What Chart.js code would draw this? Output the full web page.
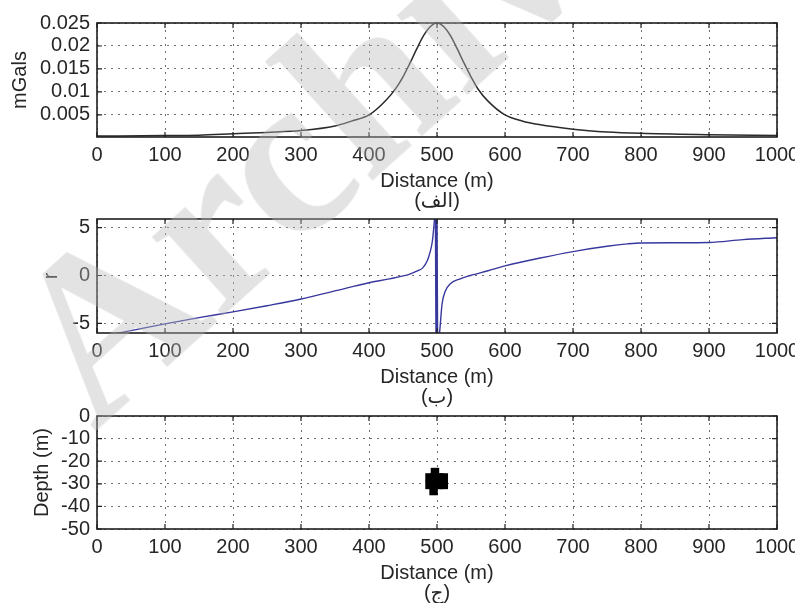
<!DOCTYPE html>
<html>
<head>
<meta charset="utf-8">
<script src="https://cdn.jsdelivr.net/npm/chart.js@4.4.0/dist/chart.umd.min.js"></script>
<style>
  html, body { margin: 0; padding: 0; background: #fff; }
  body { width: 795px; height: 607px; overflow: hidden; position: relative; }
  canvas { position: absolute; left: 0; }
  #wm {
    position: absolute; left: -36px; top: 288px;
    transform: rotate(-42deg); transform-origin: 0 0;
    font: bold 232px 'Liberation Serif', serif; line-height: 1;
    color: rgba(185,185,185,0.4); white-space: nowrap; pointer-events: none;
  }
</style>
</head>
<body>
<canvas id="grav" width="830" height="207" style="top:4px"></canvas>
<canvas id="ratio" width="830" height="207" style="top:200px"></canvas>
<canvas id="depth" width="830" height="206" style="top:397px"></canvas>
<div id="wm">Archive</div>
<script>
// x axis (shared)
const distTicks = [0, 100, 200, 300, 400, 500, 600, 700, 800, 900, 1000];

// (الف) gravity anomaly
const gravX = [0, 100, 150, 200, 250, 300, 350, 375, 400, 425, 440, 450, 460, 470, 480, 490, 500,
    510, 520, 530, 540, 550, 560, 575, 600, 625, 650, 700, 750, 800, 900, 1000];
const gravY = [0.0004, 0.0005, 0.0006, 0.0009, 0.0012, 0.0016, 0.0026, 0.0037, 0.0050, 0.0082, 0.0109,
    0.0133, 0.0162, 0.0193, 0.0222, 0.0242, 0.0250, 0.0242, 0.0222, 0.0193, 0.0162, 0.0133, 0.0107,
    0.0080, 0.0050, 0.0037, 0.0029, 0.0019, 0.0013, 0.0010, 0.0007, 0.0005];
const gravTicks = [0.005, 0.01, 0.015, 0.02, 0.025];
const gravTickLabels = ['0.005', '0.01', '0.015', '0.02', '0.025'];

// (ب) ratio r
const ratioX = [0, 32, 50, 100, 150, 200, 250, 300, 350, 400, 430, 460, 472, 479, 486, 490, 493, 495, 497, 498.5,
    500, 502, 504, 507.4, 512, 520, 534, 549, 575, 600, 650, 700, 750, 780, 800, 850, 900, 950, 1000];
const ratioY = [-6.6, -6.0, -5.75, -5.05, -4.4, -3.8, -3.15, -2.45, -1.6, -0.75, -0.35, 0.15, 0.5, 0.8, 1.6,
    2.5, 3.5, 4.8, 6.5, 8, -8, -7, -5.8, -3.0, -1.67, -0.84, -0.34, 0.0, 0.5, 1.0, 1.8, 2.5, 3.05, 3.3,
    3.4, 3.42, 3.45, 3.75, 3.95];
const ratioTicks = [-5, 0, 5];

// (ج) estimated source
const blobX = [489, 496, 503, 510, 489, 496, 503, 510, 497, 495];
const blobY = [-27.2, -27.2, -27.2, -27.2, -30.5, -30.5, -30.5, -30.5, -24.8, -33.2];
const depthTicks = [-50, -40, -30, -20, -10, 0];

const FONT = "'Liberation Sans', Arial, 'DejaVu Sans', sans-serif";
const TEXT = '#262626';

// box around the axes with inward tick marks, like matlab
const framePlugin = {
    id: 'frame',
    afterDatasetsDraw(chart) {
        const { ctx, chartArea: a, scales: { x, y } } = chart;
        ctx.save();
        ctx.strokeStyle = '#1e1e1e';
        ctx.lineWidth = 1.6;
        ctx.strokeRect(a.left, a.top, a.right - a.left, a.bottom - a.top);
        ctx.lineWidth = 1.2;
        ctx.beginPath();
        x.ticks.forEach(t => {
            const px = x.getPixelForValue(t.value);
            ctx.moveTo(px, a.bottom); ctx.lineTo(px, a.bottom - 5);
            ctx.moveTo(px, a.top); ctx.lineTo(px, a.top + 5);
        });
        y.ticks.forEach(t => {
            const py = y.getPixelForValue(t.value);
            ctx.moveTo(a.left, py); ctx.lineTo(a.left + 5, py);
            ctx.moveTo(a.right, py); ctx.lineTo(a.right - 5, py);
        });
        ctx.stroke();
        ctx.restore();
    }
};

function gridOpts() {
    return { color: 'rgba(50,50,50,0.7)', lineWidth: 1, drawTicks: false };
}

function buildOptions(yCfg, xTitle) {
    return {
        responsive: false,
        animation: false,
        devicePixelRatio: 1,
        layout: { padding: { top: 15, right: 53, left: 0, bottom: 0 } },
        plugins: { legend: { display: false }, tooltip: { enabled: false } },
        scales: {
            x: {
                type: 'linear', min: 0, max: 1000,
                afterBuildTicks: s => { s.ticks = distTicks.map(v => ({ value: v })); },
                afterFit: s => { s.height = 74; },
                grid: gridOpts(),
                border: { display: false, dash: [2, 5] },
                ticks: { color: TEXT, font: { family: FONT, size: 20 }, padding: 6, maxRotation: 0, autoSkip: false,
                         callback: (v, i) => String(distTicks[i]) },
                title: { display: true, text: ['Distance (m)', xTitle], color: TEXT, padding: 0,
                         font: { family: FONT, size: 20, lineHeight: 1 } },
            },
            y: {
                type: 'linear', min: yCfg.min, max: yCfg.max,
                afterBuildTicks: s => { s.ticks = yCfg.ticks.map(v => ({ value: v })); },
                afterFit: s => { s.width = 97; },
                grid: gridOpts(),
                border: { display: false, dash: [2, 5] },
                ticks: { color: TEXT, font: { family: FONT, size: 20 }, padding: 7, autoSkip: false,
                         callback: (v, i) => yCfg.labels[i] },
                title: { display: true, text: yCfg.title, color: TEXT, padding: { top: yCfg.titlePad },
                         font: { family: FONT, size: 20, lineHeight: 1.2 } },
            },
        },
    };
}

new Chart(document.getElementById('grav'), {
    type: 'line',
    data: {
        datasets: [{
            data: gravX.map((d, i) => ({ x: d, y: gravY[i] })),
            borderColor: '#2b2b2b', borderWidth: 1.5, pointRadius: 0,
            cubicInterpolationMode: 'monotone', fill: false, clip: 1,
        }],
    },
    options: buildOptions({ min: 0.0002, max: 0.025, ticks: gravTicks, labels: gravTickLabels, title: 'mGals', titlePad: 8 }, '(الف)'),
    plugins: [framePlugin],
});

new Chart(document.getElementById('ratio'), {
    type: 'line',
    data: {
        datasets: [{
            data: ratioX.map((d, i) => ({ x: d, y: ratioY[i] })),
            borderColor: '#37379e', borderWidth: 1.4, pointRadius: 0,
            cubicInterpolationMode: 'monotone', fill: false, clip: 0,
            segment: { borderWidth: c => Math.abs(c.p1.parsed.y - c.p0.parsed.y) > 8 ? 3 : 1.4 },
        }],
    },
    options: buildOptions({ min: -6, max: 5.9, ticks: ratioTicks, labels: ratioTicks.map(String), title: 'r', titlePad: 39 }, '(ب)'),
    plugins: [framePlugin],
});

new Chart(document.getElementById('depth'), {
    type: 'scatter',
    data: {
        datasets: [{
            data: blobX.map((d, i) => ({ x: d, y: blobY[i] })),
            backgroundColor: '#000', borderColor: '#000', borderWidth: 0,
            pointStyle: 'rect', pointRadius: 6,
        }],
    },
    options: buildOptions({ min: -50, max: 0, ticks: depthTicks, labels: depthTicks.map(String), title: 'Depth (m)', titlePad: 30 }, '(ج)'),
    plugins: [framePlugin],
});
</script>
</body>
</html>
